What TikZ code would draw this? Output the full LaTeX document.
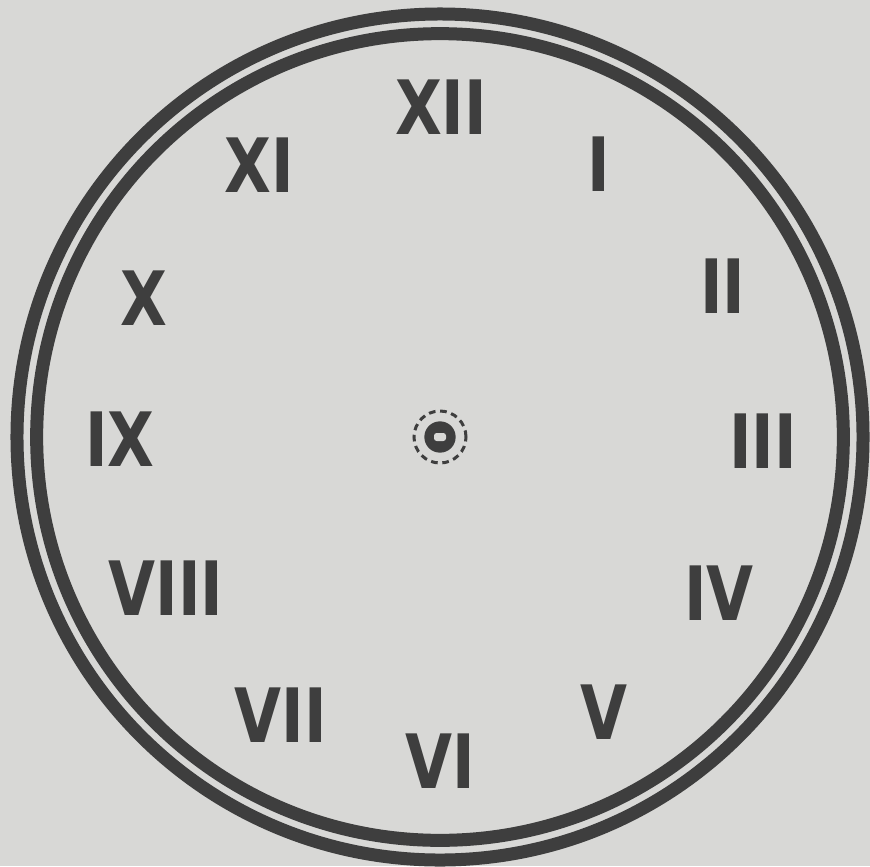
\documentclass[tikz,border=0pt]{standalone}
\usepackage{fontspec}
\newfontfamily\dialfont{DejaVu Sans Condensed}
\usepackage{tikz}
\usetikzlibrary{positioning}
\usepackage{xcolor}
\definecolor{paper}{RGB}{216,216,214}
\definecolor{ink}{RGB}{62,62,62}
\newcommand{\dial}[1]{\scalebox{0.9}[1]{#1}}

\begin{document}
\begin{tikzpicture}[x=0.03cm,y=-0.03cm,
   numeral/.style={text=ink,inner sep=0pt,font=\dialfont\bfseries\fontsize{64}{64}\selectfont},
   rim/.style={draw=ink,line width=0.39cm}]
  \fill[paper] (0,0) rectangle (870,866);
  \useasboundingbox (0,0) rectangle (870,866);
  \coordinate (hub) at (440,437);
  % double rim
  \draw[rim] (hub) circle[radius=12.69cm];
  \draw[rim] (hub) circle[radius=12.1cm];
  % centre boss
  \draw[ink,line width=0.09cm,dash pattern=on 0.2cm off 0.14cm] (hub) circle[radius=0.78cm];
  \fill[ink] (hub) circle[radius=0.47cm];
  \node[fill=paper,rounded corners=0.08cm,minimum width=0.36cm,minimum height=0.24cm,inner sep=0pt] (hole) at (hub) {};
  \foreach \name/\txt/\x/\y in {h12/XII/441/107,h1/I/599/164,h2/II/723/286,h3/III/763/441,
      h4/IV/719/593,h5/V/604/712,h6/VI/440/761,h7/VII/281/715,h8/VIII/166/588,
      h9/IX/120/439,h10/X/144/298,h11/XI/259/165}{
    \node[numeral] (\name) at (\x,\y) {\dial{\txt}};
  }
\end{tikzpicture}
\end{document}
